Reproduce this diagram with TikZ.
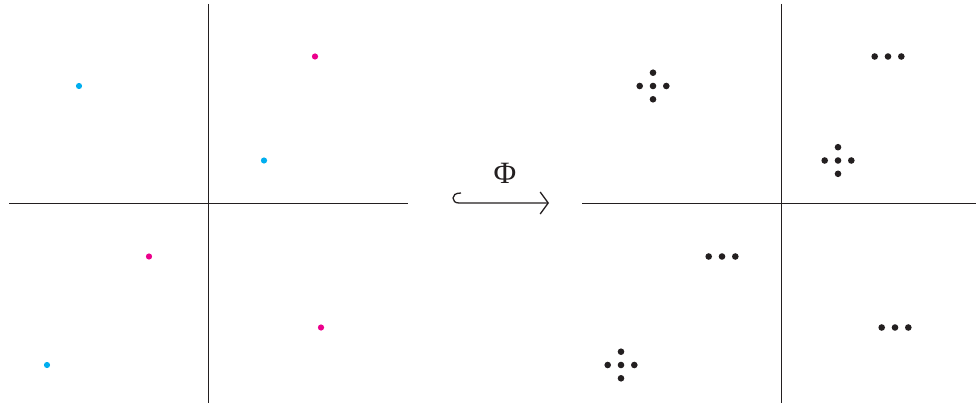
\documentclass[tikz,border=0pt]{standalone}
\usepackage{fontspec}
\newfontfamily\phifont{Liberation Serif}
\usetikzlibrary{arrows.meta}
\definecolor{ink}{RGB}{35,31,32}
\definecolor{dotcyan}{RGB}{0,174,239}
\definecolor{dotmag}{RGB}{236,0,140}
\begin{document}
\begin{tikzpicture}[x=1pt,y=-1pt,
  axis/.style={draw=ink,line width=0.9pt},
  cdot/.style={circle,fill=dotcyan,inner sep=0pt,minimum size=6.2pt},
  mdot/.style={circle,fill=dotmag,inner sep=0pt,minimum size=6.2pt},
  kdot/.style={circle,fill=ink,inner sep=0pt,minimum size=6.6pt},
  maplabel/.style={inner sep=0pt,text=ink,font=\phifont\fontsize{31}{36}\selectfont}]
\useasboundingbox (0,0) rectangle (976,403);
% left axes
\coordinate (lxl) at (9,203); \coordinate (lxr) at (408,203);
\coordinate (lyt) at (208,4); \coordinate (lyb) at (208,403);
\draw[axis] (lxl) -- (lxr); \draw[axis] (lyt) -- (lyb);
% right axes
\coordinate (rxl) at (582,203); \coordinate (rxr) at (976,203);
\coordinate (ryt) at (781,4); \coordinate (ryb) at (781,403);
\draw[axis] (rxl) -- (rxr); \draw[axis] (ryt) -- (ryb);
% left dots
\node[cdot] (c1) at (79,86) {};
\node[cdot] (c2) at (264,160.5) {};
\node[cdot] (c3) at (47,365) {};
\node[mdot] (m1) at (315,56.5) {};
\node[mdot] (m2) at (149,256.5) {};
\node[mdot] (m3) at (321,327.5) {};
% right: diamonds
\foreach \n/\x/\y in {d1/653/86, d2/838/160.5, d3/621/365}{
  \node[kdot] (\n c) at (\x,\y) {};
  \node[kdot] (\n l) at (\x-13.3,\y) {};
  \node[kdot] (\n r) at (\x+13.3,\y) {};
  \node[kdot] (\n t) at (\x,\y-13.3) {};
  \node[kdot] (\n b) at (\x,\y+13.3) {};
}
% right: triples
\foreach \n/\x/\y in {t1/888/56.5, t2/722/256.5, t3/895/327.5}{
  \node[kdot] (\n c) at (\x,\y) {};
  \node[kdot] (\n l) at (\x-13.3,\y) {};
  \node[kdot] (\n r) at (\x+13.3,\y) {};
}
% map arrow
\coordinate (as) at (459,203);
\coordinate (ae) at (549,203);
\coordinate (ah) at (461,193);
\draw[ink,line width=1.3pt,-{Straight Barb[length=8pt,width=22pt,line width=1.3pt]}]
  (ah) .. controls (455,193) and (453,195.5) .. (453,198)
  .. controls (453,200.8) and (455,203) .. (as) -- (ae);
\node[maplabel] (phi) at (505,173) {Φ};
\end{tikzpicture}
\end{document}
